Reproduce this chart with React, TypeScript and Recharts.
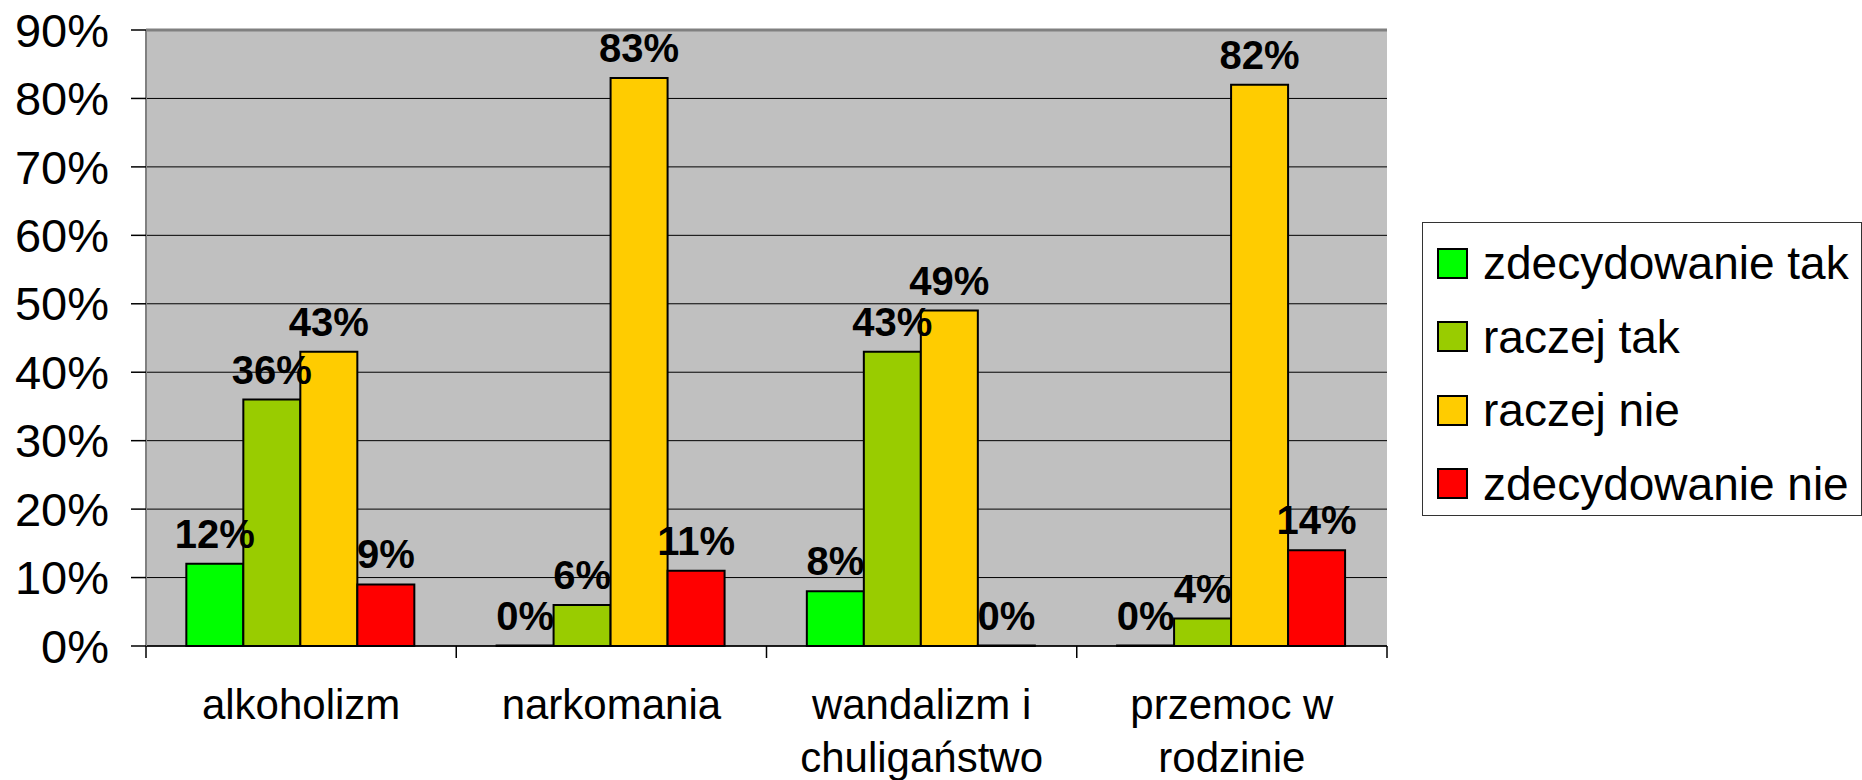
import { Bar, BarChart, CartesianGrid, LabelList, ReferenceLine, XAxis, YAxis } from "recharts";

const categories = ["alkoholizm", "narkomania", "wandalizm i\nchuligaństwo", "przemoc w\nrodzinie"];
const zdecydowanieTak = [12, 0, 8, 0];
const raczejTak = [36, 6, 43, 4];
const raczejNie = [43, 83, 49, 82];
const zdecydowanieNie = [9, 11, 0, 14];
const yTicks = [0, 10, 20, 30, 40, 50, 60, 70, 80, 90];

const series = [
  { key: "zt", name: "zdecydowanie tak", color: "#00ff00", values: zdecydowanieTak },
  { key: "rt", name: "raczej tak", color: "#99cc00", values: raczejTak },
  { key: "rn", name: "raczej nie", color: "#ffcc00", values: raczejNie },
  { key: "zn", name: "zdecydowanie nie", color: "#ff0000", values: zdecydowanieNie },
];

const data = categories.map((category, i) => {
  const row: Record<string, string | number> = { category };
  series.forEach((s) => {
    row[s.key] = s.values[i];
  });
  return row;
});

const font = "'Liberation Sans', Arial, sans-serif";

function CategoryTick(props: any) {
  const { x, y, payload, index, width } = props;
  const half = (typeof width === "number" && width > 0 ? width : 1241) / categories.length / 2;
  const lines = String(payload.value).split("\n");
  return (
    <g>
      <line x1={x - half} x2={x - half} y1={y} y2={y + 12} stroke="#000" strokeWidth={1.5} />
      {index === categories.length - 1 && (
        <line x1={x + half} x2={x + half} y1={y} y2={y + 12} stroke="#000" strokeWidth={1.5} />
      )}
      <text x={x} y={y + 73} textAnchor="middle" fontSize={42} fill="#000" fontFamily={font}>
        {lines.map((line, i) => (
          <tspan key={line} x={x} dy={i === 0 ? 0 : 53}>
            {line}
          </tspan>
        ))}
      </text>
    </g>
  );
}

function ChartLegend() {
  return (
    <div
      style={{
        position: "absolute",
        left: 1422,
        top: 222,
        width: 438,
        height: 292,
        border: "1px solid #333",
        background: "#fff",
        fontFamily: font,
        fontSize: 46,
        color: "#000",
      }}
    >
      {series.map((s, i) => (
        <div
          key={s.key}
          style={{ position: "absolute", left: 14, top: 40 + i * 73.5 - 28, height: 56, display: "flex", alignItems: "center" }}
        >
          <span
            style={{ width: 27, height: 27, background: s.color, border: "2px solid #000", display: "inline-block", marginRight: 15 }}
          />
          <span style={{ whiteSpace: "nowrap", lineHeight: "56px" }}>{s.name}</span>
        </div>
      ))}
    </div>
  );
}

export default function App() {
  return (
    <div style={{ position: "absolute", left: 0, top: 0, width: 1862, height: 780, background: "#fff" }}>
      <BarChart
        width={1862}
        height={780}
        data={data}
        margin={{ top: 30, right: 475, bottom: 0, left: 0 }}
        barCategoryGap="13%"
        barGap={0}
      >
        <CartesianGrid vertical={false} stroke="#000" strokeWidth={1} fill="#c0c0c0" fillOpacity={1} />
        <XAxis
          dataKey="category"
          height={134}
          interval={0}
          tickLine={false}
          tickSize={0}
          tickMargin={0}
          axisLine={{ stroke: "#000", strokeWidth: 1.5 }}
          tick={<CategoryTick />}
        />
        <YAxis
          width={146}
          domain={[0, 90]}
          ticks={yTicks}
          interval={0}
          tickSize={15}
          tickMargin={22}
          tickFormatter={(v) => `${v}%`}
          tick={{ fill: "#000", fontSize: 47, fontFamily: font }}
          tickLine={{ stroke: "#000", strokeWidth: 1.5 }}
          axisLine={{ stroke: "#808080", strokeWidth: 2 }}
        />
        <YAxis
          yAxisId="right"
          orientation="right"
          width={0}
          domain={[0, 90]}
          tick={false}
          tickLine={false}
          axisLine={{ stroke: "#808080", strokeWidth: 3 }}
        />
        <ReferenceLine y={90} stroke="#808080" strokeWidth={3} />
        {series.map((s) => (
          <Bar
            key={s.key}
            dataKey={s.key}
            name={s.name}
            fill={s.color}
            stroke="#000"
            strokeWidth={2}
            minPointSize={0.5}
            isAnimationActive={false}
          >
            <LabelList
              dataKey={s.key}
              position="top"
              offset={16}
              formatter={(v: any) => `${v}%`}
              style={{ fontWeight: "bold", fontSize: 40, fontFamily: font, fill: "#000" }}
            />
          </Bar>
        ))}
      </BarChart>
      <ChartLegend />
    </div>
  );
}
